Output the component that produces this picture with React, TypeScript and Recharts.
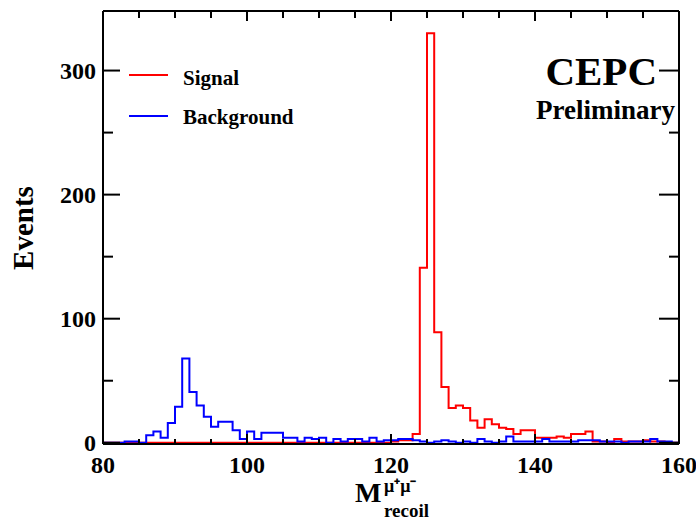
import { LineChart, Line, XAxis, YAxis } from 'recharts';

// bin low edges, plus the closing edge at 160
const binEdges = [
  80, 81, 82, 83, 84, 85, 86, 87, 88, 89, 90, 91, 92, 93, 94, 95, 96, 97, 98, 99,
  100, 101, 102, 103, 104, 105, 106, 107, 108, 109, 110, 111, 112, 113, 114, 115, 116, 117, 118, 119,
  120, 121, 122, 123, 124, 125, 126, 127, 128, 129, 130, 131, 132, 133, 134, 135, 136, 137, 138, 139,
  140, 141, 142, 143, 144, 145, 146, 147, 148, 149, 150, 151, 152, 153, 154, 155, 156, 157, 158, 159,
  160,
];

const signalCounts = [
  0, 0, 0, 0, 0, 0, 0, 0, 0, 0, 0, 0, 0, 0, 0, 0, 0, 0, 0, 0,
  0, 0, 0, 0, 0, 0, 0, 0, 0, 0, 0, 0, 0, 0, 0, 0, 0, 0, 0, 0,
  1, 2, 2, 7, 141, 330, 89, 45, 28, 30, 28, 18, 12, 19, 15, 12, 11, 7, 10, 10,
  4, 4, 4, 5, 4, 7, 7, 9, 1, 1, 0, 3, 1, 1, 1, 2, 1, 1, 0, 0,
];

const backgroundCounts = [
  0, 0, 0, 1, 1, 0, 6, 9, 4, 16, 29, 68, 41, 30, 21, 13, 17, 17, 10, 3,
  9, 3, 8, 8, 8, 4, 4, 1, 4, 3, 4, 0, 3, 1, 3, 3, 1, 4, 1, 2,
  2, 3, 3, 2, 1, 0, 1, 2, 1, 0, 1, 0, 3, 1, 0, 1, 5, 1, 1, 1,
  1, 3, 1, 1, 1, 1, 2, 2, 2, 1, 1, 1, 0, 1, 1, 1, 3, 1, 1, 0,
];

const xTicks = [80, 85, 90, 95, 100, 105, 110, 115, 120, 125, 130, 135, 140, 145, 150, 155, 160];
const xLabels = [80, 100, 120, 140, 160];
const yTicks = [0, 50, 100, 150, 200, 250, 300];
const yLabels = [0, 100, 200, 300];

const data = binEdges.map((x, i) => ({
  x,
  signal: signalCounts[Math.min(i, signalCounts.length - 1)],
  background: backgroundCounts[Math.min(i, backgroundCounts.length - 1)],
}));

const serif = '"Liberation Serif", "Times New Roman", serif';
const xDomain = [80, 160];
const yDomain = [-1, 348];

// inward tick marks, one renderer per side
function BottomTick(props: any) {
  const { x, y, payload } = props;
  const len = xLabels.includes(payload.value) ? 10 : 5;
  return <path d={`M${x},${y}V${y - len}`} stroke="#000" strokeWidth={2} fill="none" />;
}

function TopTick(props: any) {
  const { x, y, payload } = props;
  const len = xLabels.includes(payload.value) ? 10 : 7;
  return <path d={`M${x},${y}V${y + len}`} stroke="#000" strokeWidth={2} fill="none" />;
}

function LeftTick(props: any) {
  const { x, y, payload } = props;
  const len = yLabels.includes(payload.value) ? 17 : 10;
  return <path d={`M${x},${y}H${x + len}`} stroke="#000" strokeWidth={2} fill="none" />;
}

function RightTick(props: any) {
  const { x, y, payload } = props;
  const len = yLabels.includes(payload.value) ? 20 : 10;
  return <path d={`M${x},${y}H${x - len}`} stroke="#000" strokeWidth={2} fill="none" />;
}

function XLabel(props: any) {
  const { x, y, payload } = props;
  return (
    <text x={x} y={y + 28} textAnchor="middle" fontFamily={serif} fontWeight="bold" fontSize={24} fill="#000">
      {payload.value}
    </text>
  );
}

function YLabel(props: any) {
  const { x, y, payload } = props;
  return (
    <text x={x - 6} y={y + 8} textAnchor="end" fontFamily={serif} fontWeight="bold" fontSize={24} fill="#000">
      {payload.value}
    </text>
  );
}

const frame = { stroke: '#000', strokeWidth: 2 };
const bare = { tickSize: 0, tickMargin: 0, tickLine: false, interval: 0 as const };

export default function App() {
  return (
    <div style={{ position: 'absolute', left: 0, top: 0, width: 696, height: 521, background: '#fff' }}>
      <LineChart width={696} height={521} data={data} margin={{ top: 10, right: 16, bottom: 0, left: 0 }}>
        <XAxis xAxisId="b" dataKey="x" type="number" domain={xDomain} ticks={xLabels} height={76} axisLine={false} tick={XLabel} {...bare} />
        <XAxis xAxisId="a" dataKey="x" type="number" domain={xDomain} ticks={xTicks} height={1} axisLine={frame} tick={BottomTick} {...bare} />
        <XAxis xAxisId="t" orientation="top" dataKey="x" type="number" domain={xDomain} ticks={xTicks} height={1} axisLine={frame} tick={TopTick} {...bare} />
        <YAxis yAxisId="l" type="number" domain={yDomain} allowDataOverflow ticks={yLabels} width={102} axisLine={false} tick={YLabel} {...bare} />
        <YAxis yAxisId="k" type="number" domain={yDomain} allowDataOverflow ticks={yTicks} width={1} axisLine={frame} tick={LeftTick} {...bare} />
        <YAxis yAxisId="r" orientation="right" type="number" domain={yDomain} allowDataOverflow ticks={yTicks} width={1} axisLine={frame} tick={RightTick} {...bare} />
        <Line
          xAxisId="b"
          yAxisId="l"
          dataKey="signal"
          type="stepAfter"
          stroke="#ff0000"
          strokeWidth={2}
          dot={false}
          isAnimationActive={false}
        />
        <Line
          xAxisId="b"
          yAxisId="l"
          dataKey="background"
          type="stepAfter"
          stroke="#0000ff"
          strokeWidth={2}
          dot={false}
          isAnimationActive={false}
        />
      </LineChart>
      <svg
        width={696}
        height={521}
        style={{ position: 'absolute', left: 0, top: 0, pointerEvents: 'none' }}
        fontFamily={serif}
        fontWeight="bold"
        fill="#000"
      >
        <text x={33} y={228} fontSize={29} textAnchor="middle" transform="rotate(-90 33 228)">
          Events
        </text>
        <text x={355} y={502} fontSize={28}>M</text>
        <text x={384} y={492} fontSize={18}>μ⁺μ⁻</text>
        <text x={384} y={517} fontSize={19}>recoil</text>

        <line x1={129} x2={168} y1={75} y2={75} stroke="#ff0000" strokeWidth={2} />
        <text x={183} y={85} fontSize={21}>Signal</text>
        <line x1={129} x2={168} y1={116} y2={116} stroke="#0000ff" strokeWidth={2} />
        <text x={183} y={124} fontSize={21}>Background</text>

        <text x={657} y={85} fontSize={41} textAnchor="end">CEPC</text>
        <text x={675} y={119} fontSize={27} textAnchor="end">Preliminary</text>
      </svg>
    </div>
  );
}
